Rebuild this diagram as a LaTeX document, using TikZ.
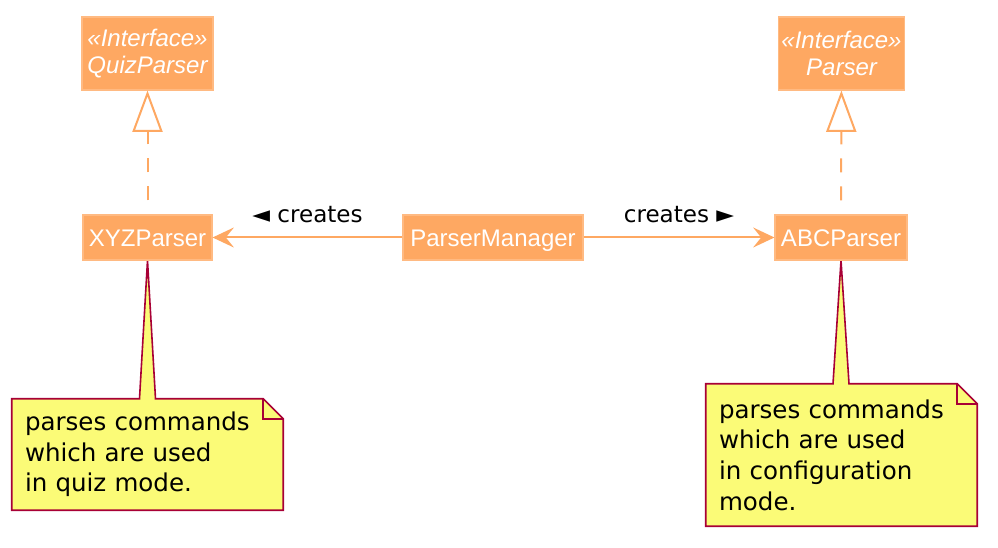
\documentclass[tikz,border=0pt]{standalone}
\usepackage{fontspec}
\usepackage{tikz}
\usetikzlibrary{arrows.meta,calc,backgrounds}
\newfontfamily\classfont{Liberation Sans}
\newfontfamily\notefont{DejaVu Sans}
\definecolor{boxfill}{RGB}{254,168,98}
\definecolor{boxline}{RGB}{255,186,130}
\definecolor{notefill}{RGB}{251,251,119}
\definecolor{noteline}{RGB}{168,0,54}

\begin{document}
\begin{tikzpicture}[x=0.75pt, y=-0.75pt,
    umlbox/.style={draw=boxline, fill=boxfill, line width=0.8pt, text=white, inner sep=0pt},
    cls/.style={umlbox, text height=13pt, text depth=0pt, font=\classfont\fontsize{18}{20.25}\selectfont},
    iface/.style={umlbox, align=center, font=\classfont\itshape\fontsize{18}{20.25}\selectfont},
    notetext/.style={text width=183.75pt, inner xsep=9.75pt, inner ysep=0pt, align=left, font=\notefont\fontsize{18.4}{23}\selectfont},
    notebox/.style={draw=noteline, fill=notefill, line width=1.2pt},
    create/.style={draw=boxfill, line width=1.5pt, -{Stealth[length=16pt, width=15pt, inset=6pt]}},
    impl/.style={draw=boxfill, line width=1.5pt, dash pattern=on 10.5pt off 10.5pt, dash phase=10.5pt,
        -{Triangle[open, length=31pt, width=22.5pt, fill=white]}},
    lbl/.style={above=10.5pt, inner sep=0pt, text=black, font=\notefont\fontsize{17.3}{20}\selectfont}]
    \useasboundingbox (0,0) rectangle (998,548);

    % interfaces
    \node[iface, minimum width=98.25pt, minimum height=54.75pt] (quiz) at (147.5,53.5) {«Interface»\\QuizParser};
    \node[iface, minimum width=94.5pt, minimum height=54.75pt] (parser) at (841.5,53.5) {«Interface»\\Parser};

    % classes
    \node[cls, minimum width=96.75pt, minimum height=33.75pt] (xyz) at (147.5,237.5) {XYZParser};
    \node[cls, minimum width=135pt, minimum height=33.75pt] (mgr) at (493,237.5) {ParserManager};
    \node[cls, minimum width=99pt, minimum height=33.75pt] (abc) at (841,237.5) {ABCParser};

    % notes
    \node[notetext, minimum height=83.25pt] (xyznote) at (147.5,454.5) {parses commands\\which are used\\in quiz mode.};
    \node[notetext, minimum height=106.5pt] (abcnote) at (841.5,455) {parses commands\\which are used\\in configuration\\mode.};

    \begin{scope}[on background layer]
        \draw[notebox] (xyznote.south west) -- (xyznote.north west)
            -- ($(xyz.south |- xyznote.north)+(-8,0)$) -- (xyz.south)
            -- ($(xyz.south |- xyznote.north)+(8,0)$)
            -- ($(xyznote.north east)+(-20,0)$) -- ($(xyznote.north east)+(0,20)$)
            -- (xyznote.south east) -- cycle;
        \draw[notebox, fill=none] ($(xyznote.north east)+(-20,0)$) |- ($(xyznote.north east)+(0,20)$);
        \draw[notebox] (abcnote.south west) -- (abcnote.north west)
            -- ($(abc.south |- abcnote.north)+(-8,0)$) -- (abc.south)
            -- ($(abc.south |- abcnote.north)+(8,0)$)
            -- ($(abcnote.north east)+(-20,0)$) -- ($(abcnote.north east)+(0,20)$)
            -- (abcnote.south east) -- cycle;
        \draw[notebox, fill=none] ($(abcnote.north east)+(-20,0)$) |- ($(abcnote.north east)+(0,20)$);
    \end{scope}

    \draw[impl] (xyz) -- (quiz);
    \draw[impl] (abc) -- (parser);
    \draw[create] (mgr) -- node[lbl] {◄ creates} (xyz);
    \draw[create] (mgr) -- node[lbl] {creates ►} (abc);
\end{tikzpicture}
\end{document}
